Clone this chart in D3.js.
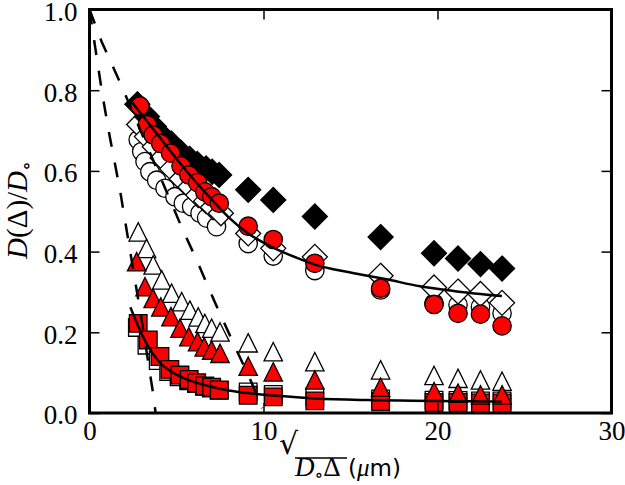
<!DOCTYPE html>
<html><head><meta charset="utf-8">
<script src="https://cdn.jsdelivr.net/npm/d3@7"></script>
<style>body{margin:0;background:#fff}svg{display:block}</style>
</head><body>
<svg id="c" width="625" height="485"></svg>
<script>
// ---------- data ----------
const xTicks = [0, 10, 20, 30];
const yTicks = [0.0, 0.2, 0.4, 0.6, 0.8, 1.0];

// sparse x positions shared by all series
const xSparse = [9.12, 10.56, 12.95, 16.73, 19.80, 21.18, 22.47, 23.71];

// filled black diamonds
const blackDiaX = [2.75, 3.3, 3.7, 4.1, 4.7, 5.25, 5.75, 6.2, 6.7, 7.05, 7.45];
const blackDiaY = [0.765, 0.735, 0.71, 0.69, 0.668, 0.645, 0.63, 0.617, 0.606, 0.598, 0.59];
const blackDiaSparseY = [0.553, 0.528, 0.487, 0.436, 0.396, 0.383, 0.369, 0.358];

// open diamonds
const openDiaX = [2.85, 3.3, 3.75, 4.2, 4.75, 5.3, 5.8, 6.25, 6.7, 7.1, 7.55];
const openDiaY = [0.715, 0.685, 0.66, 0.632, 0.605, 0.58, 0.56, 0.54, 0.525, 0.51, 0.495];
const openDiaSparseY = [0.445, 0.408, 0.387, 0.34, 0.311, 0.301, 0.295, 0.273];

// open circles
const openCirX = [2.8, 3.0, 3.19, 3.47, 3.86, 4.34, 4.91, 5.39, 5.87, 6.35, 6.73, 7.3];
const openCirY = [0.677, 0.648, 0.623, 0.598, 0.577, 0.557, 0.536, 0.52, 0.511, 0.495, 0.483, 0.462];
const openCirSparseY = [0.42, 0.389, 0.353, 0.305, 0.272, 0.268, 0.263, 0.247];

// red circles
const redCirX = [2.9, 3.32, 3.66, 4.09, 4.66, 5.26, 5.71, 6.21, 6.63, 7.02, 7.46];
const redCirY = [0.761, 0.714, 0.689, 0.668, 0.644, 0.612, 0.59, 0.571, 0.548, 0.536, 0.52];
const redCirSparseY = [0.463, 0.43, 0.371, 0.309, 0.269, 0.247, 0.245, 0.216];

// open triangles
const openTriX = [2.8, 3.28, 3.66, 4.15, 4.72, 5.3, 5.77, 6.25, 6.63, 7.02, 7.5];
const openTriY = [0.449, 0.408, 0.367, 0.33, 0.297, 0.276, 0.255, 0.238, 0.222, 0.21, 0.201];
const openTriSparseY = [0.174, 0.152, 0.127, 0.107, 0.093, 0.086, 0.082, 0.079];

// red triangles
const redTriX = [2.71, 3.19, 3.66, 4.1, 4.68, 5.2, 5.71, 6.21, 6.59, 7.02, 7.5];
const redTriY = [0.375, 0.313, 0.284, 0.263, 0.239, 0.21, 0.189, 0.177, 0.164, 0.156, 0.148];
const redTriSparseY = [0.116, 0.102, 0.082, 0.064, 0.053, 0.049, 0.045, 0.045];

// open squares
const openSqX = [2.75, 3.3, 3.95, 4.55, 5.15, 5.7, 6.15, 6.6, 7.0, 7.45];
const openSqY = [0.212, 0.168, 0.13, 0.103, 0.09, 0.08, 0.073, 0.066, 0.062, 0.056];
const openSqSparseY = [0.052, 0.046, 0.04, 0.035, 0.032, 0.031, 0.03, 0.03];

// red squares
const redSqX = [2.8, 3.38, 4.05, 4.62, 5.2, 5.73, 6.16, 6.63, 7.02, 7.46];
const redSqY = [0.222, 0.181, 0.14, 0.108, 0.094, 0.083, 0.075, 0.067, 0.064, 0.057];
const redSqSparseY = [0.044, 0.04, 0.03, 0.028, 0.026, 0.026, 0.025, 0.025];

// fit curves (solid)
const fitUpperX = [2.35, 3, 4, 5, 6, 7, 8, 9.12, 10.56, 12, 13, 15, 17, 19, 21, 23.7];
const fitUpperY = [0.775, 0.74, 0.685, 0.63, 0.578, 0.53, 0.485, 0.445, 0.41, 0.383, 0.367, 0.348, 0.332, 0.314, 0.302, 0.29];
const fitLowerX = [2.35, 2.8, 3.3, 4, 5, 6, 7, 8, 9.2, 11, 13, 16, 20, 23.7];
const fitLowerY = [0.262, 0.215, 0.17, 0.127, 0.095, 0.077, 0.065, 0.056, 0.049, 0.042, 0.036, 0.032, 0.03, 0.028];

// dashed curves
const dashAX = [0, 0.7, 1.12, 1.75, 2.42, 3.0, 3.65, 3.8];
const dashAY = [1, 0.8, 0.695, 0.553, 0.379, 0.23, 0.05, 0.0];
const dashBX = [0, 0.7, 1.85, 5.3, 6.16, 7.2, 8.45, 9.3, 9.92];
const dashBY = [1, 0.92, 0.81, 0.46, 0.379, 0.275, 0.156, 0.077, 0.012];

// ---------- drawing ----------
const svg = d3.select("#c");
const L = 89.5, R = 611.5, T = 9.5, B = 413;
const x = d3.scaleLinear().domain([0, 30]).range([L, R]);
const y = d3.scaleLinear().domain([0, 1]).range([B, T]);

function pts(xs, ys) { return xs.map((v, i) => [v, ys[i]]); }

const series = [
  {p: pts(openSqX.concat(xSparse), openSqY.concat(openSqSparseY)), shape: "square", fill: "#fff"},
  {p: pts(redSqX.concat(xSparse), redSqY.concat(redSqSparseY)), shape: "square", fill: "#ff0000"},
  {p: pts(openTriX.concat(xSparse), openTriY.concat(openTriSparseY)), shape: "tri", fill: "#fff"},
  {p: pts(redTriX.concat(xSparse), redTriY.concat(redTriSparseY)), shape: "tri", fill: "#ff0000"},
  {p: pts(openCirX.concat(xSparse), openCirY.concat(openCirSparseY)), shape: "circle", fill: "#fff"},
  {p: pts(openDiaX.concat(xSparse), openDiaY.concat(openDiaSparseY)), shape: "diamond", fill: "#fff"},
  {p: pts(blackDiaX.concat(xSparse), blackDiaY.concat(blackDiaSparseY)), shape: "diamond", fill: "#000"},
  {p: pts(redCirX.concat(xSparse), redCirY.concat(redCirSparseY)), shape: "circle", fill: "#ff0000"}
];

const shapes = {
  square: "M-8.8,-8.8H8.8V8.8H-8.8Z",
  tri: "M0,-9.2L9.2,9.2L-9.2,9.2Z",
  diamond: "M0,-12.5L12.5,0L0,12.5L-12.5,0Z",
  circle: "M9.2,0A9.2,9.2 0 1,1 -9.2,0A9.2,9.2 0 1,1 9.2,0Z"
};

const gM = svg.append("g");
series.forEach(s => {
  gM.append("g").selectAll("path").data(s.p).join("path")
    .attr("d", shapes[s.shape])
    .attr("transform", d => `translate(${x(d[0])},${y(d[1])})`)
    .attr("fill", s.fill)
    .attr("stroke", "#000")
    .attr("stroke-width", 1.3);
});

const line = d3.line().x(d => x(d[0])).y(d => y(d[1]));
const smooth = d3.line().x(d => x(d[0])).y(d => y(d[1])).curve(d3.curveMonotoneX);

svg.append("path").attr("d", smooth(pts(fitUpperX, fitUpperY)))
  .attr("fill", "none").attr("stroke", "#000").attr("stroke-width", 2.5);
svg.append("path").attr("d", smooth(pts(fitLowerX, fitLowerY)))
  .attr("fill", "none").attr("stroke", "#000").attr("stroke-width", 2.5);
svg.append("path").attr("d", line(pts(dashAX, dashAY)))
  .attr("fill", "none").attr("stroke", "#000").attr("stroke-width", 2.5).attr("stroke-dasharray", "15,16");
svg.append("path").attr("d", line(pts(dashBX, dashBY)))
  .attr("fill", "none").attr("stroke", "#000").attr("stroke-width", 2.5).attr("stroke-dasharray", "15,16");

// axes
const fontTick = "'Liberation Serif', 'DejaVu Serif', serif";
const axB = svg.append("g").attr("transform", `translate(0,${B})`)
  .call(d3.axisBottom(x).tickValues(xTicks).tickFormat(d3.format("d")).tickSize(-10).tickPadding(8));
const axL = svg.append("g").attr("transform", `translate(${L},0)`)
  .call(d3.axisLeft(y).tickValues(yTicks).tickFormat(d3.format(".1f")).tickSize(-10).tickPadding(12));
const axT = svg.append("g").attr("transform", `translate(0,${T})`)
  .call(d3.axisTop(x).tickValues(xTicks).tickFormat("").tickSize(-10));
const axR = svg.append("g").attr("transform", `translate(${R},0)`)
  .call(d3.axisRight(y).tickValues(yTicks).tickFormat("").tickSize(-10));
[axB, axL, axT, axR].forEach(a => {
  a.select(".domain").remove();
  a.selectAll(".tick line").attr("stroke", "#000").attr("stroke-width", 1.5);
  a.selectAll("text").attr("font-family", fontTick).attr("font-size", 27).attr("fill", "#000");
});
axL.selectAll("text").attr("dy", "0.4em");

svg.append("rect").attr("x", L).attr("y", T).attr("width", R - L).attr("height", B - T)
  .attr("fill", "none").attr("stroke", "#000").attr("stroke-width", 3);

// y label
const yl = svg.append("text").attr("transform", "translate(27,210) rotate(-90)")
  .attr("text-anchor", "middle").attr("font-family", fontTick).attr("font-size", 29).attr("fill", "#000");
yl.append("tspan").attr("font-style", "italic").text("D");
yl.append("tspan").text("(Δ)/");
yl.append("tspan").attr("font-style", "italic").text("D");
yl.append("tspan").attr("font-size", 20).attr("dy", 6).text("∘");

// x label
svg.append("text").attr("x", 279).attr("y", 454).attr("font-family", "'DejaVu Sans', sans-serif")
  .attr("font-size", 30).attr("fill", "#000").text("√");
svg.append("line").attr("x1", 295).attr("x2", 347).attr("y1", 458).attr("y2", 458)
  .attr("stroke", "#000").attr("stroke-width", 1.3);
const xl = svg.append("text").attr("x", 295).attr("y", 476).attr("font-family", fontTick)
  .attr("font-size", 27).attr("fill", "#000");
xl.append("tspan").attr("font-style", "italic").text("D");
xl.append("tspan").attr("font-size", 18).attr("dy", 5).text("∘");
xl.append("tspan").attr("dy", -5).text("Δ");
xl.append("tspan").attr("font-family", "'DejaVu Sans', sans-serif").attr("font-size", 23).text(" (");
xl.append("tspan").attr("font-style", "italic").attr("font-size", 25).text("μ");
xl.append("tspan").attr("font-family", "'DejaVu Sans', sans-serif").attr("font-size", 23).text("m)");
</script>
</body></html>
